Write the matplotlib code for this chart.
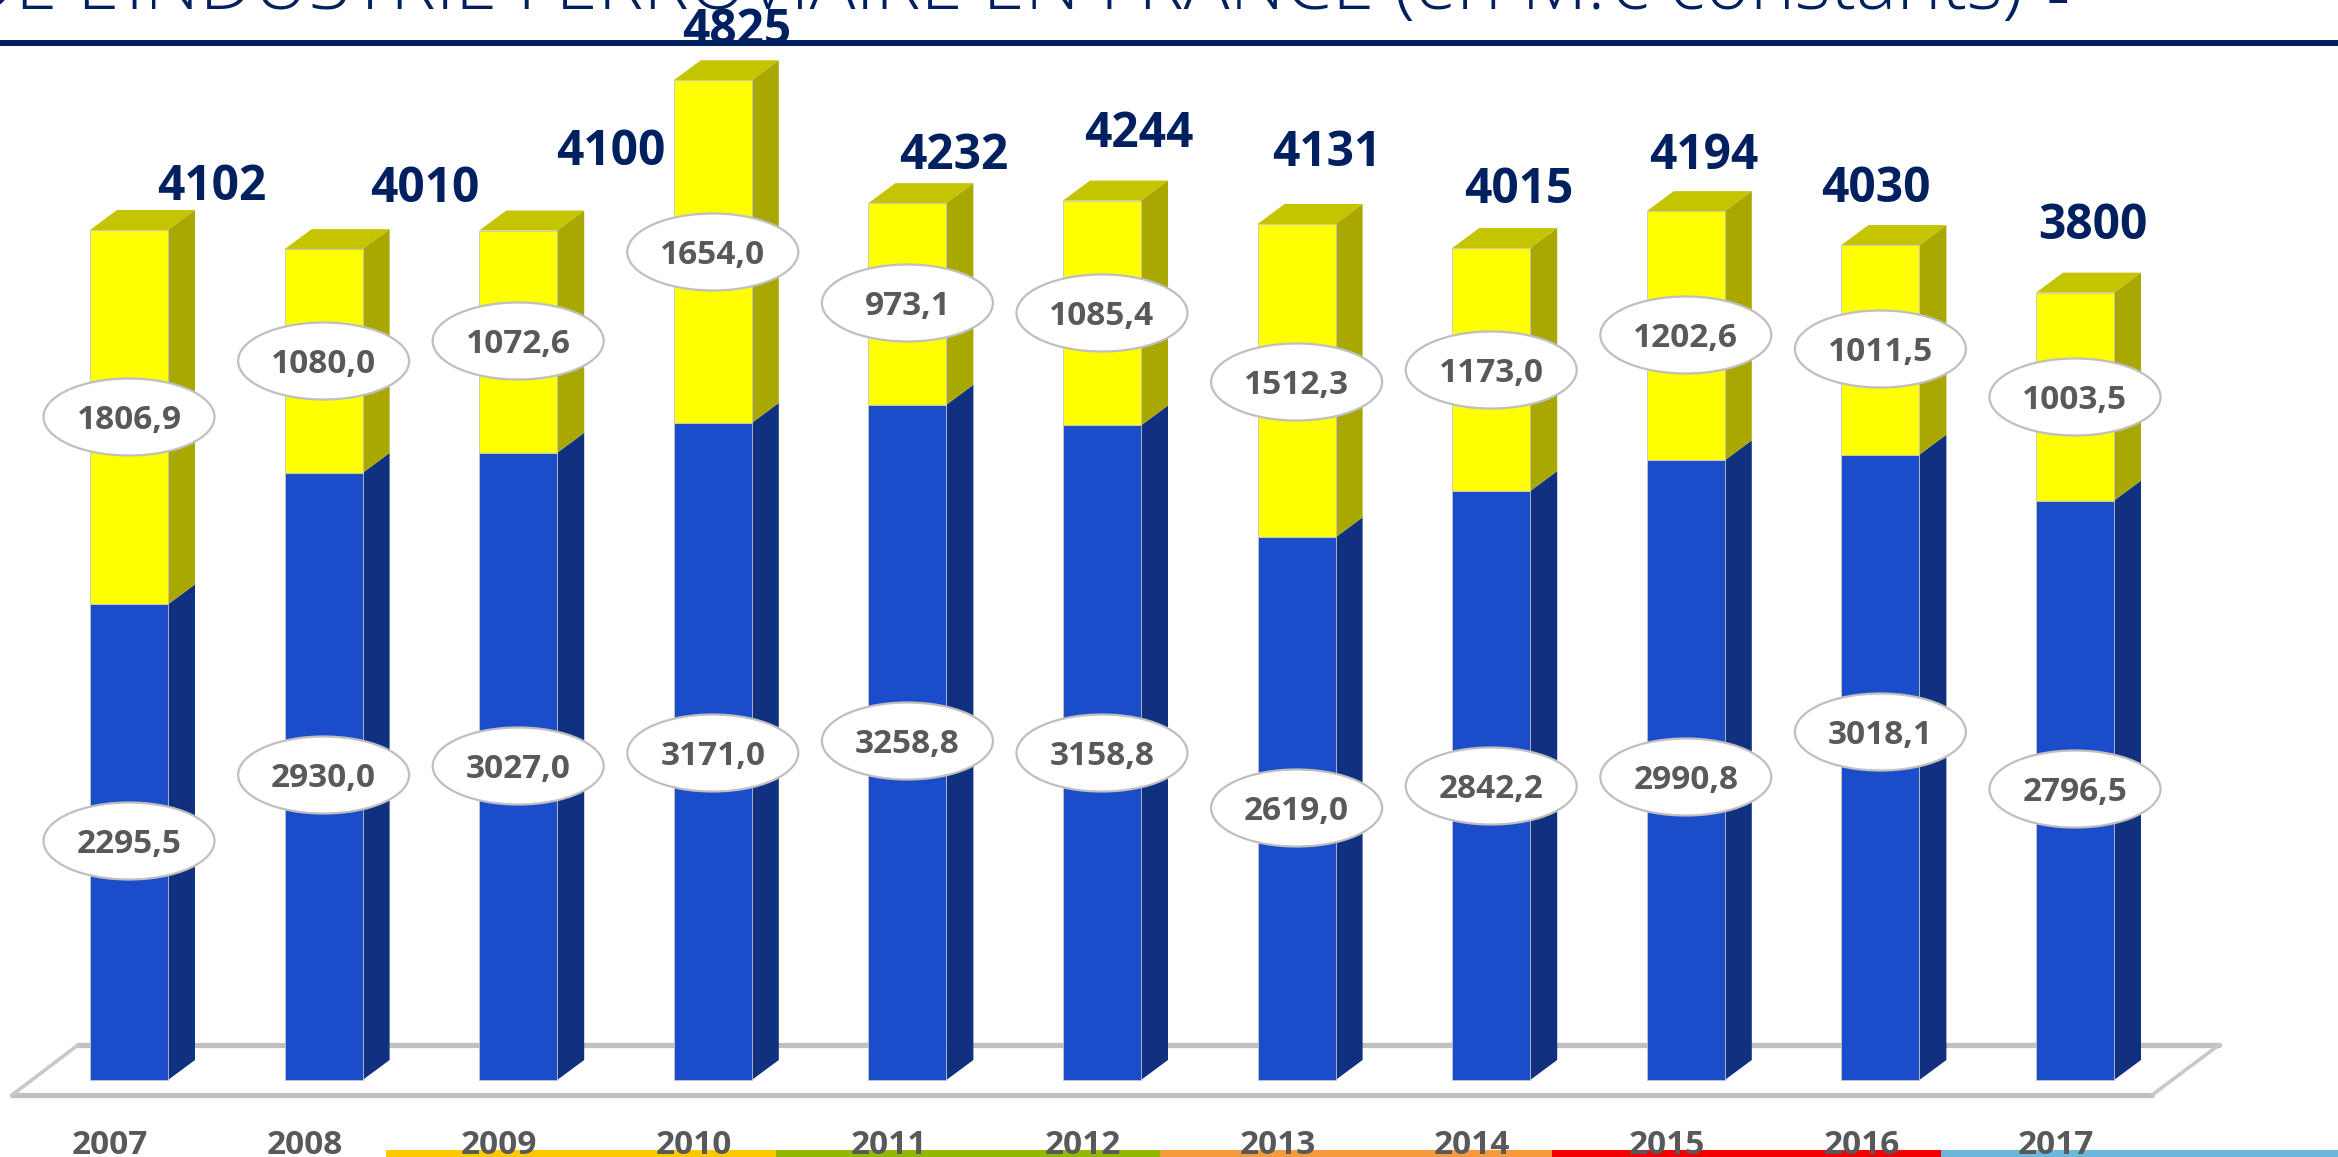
import matplotlib
matplotlib.use("Agg")
import matplotlib.pyplot as plt
from matplotlib.patches import Polygon, Ellipse, Rectangle

# ---- data ----
years = ["2007", "2008", "2009", "2010", "2011", "2012", "2013", "2014", "2015", "2016", "2017"]
lower = [2295.5, 2930.0, 3027.0, 3171.0, 3258.8, 3158.8, 2619.0, 2842.2, 2990.8, 3018.1, 2796.5]
upper = [1806.9, 1080.0, 1072.6, 1654.0, 973.1, 1085.4, 1512.3, 1173.0, 1202.6, 1011.5, 1003.5]
totals = ["4102", "4010", "4100", "4825", "4232", "4244", "4131", "4015", "4194", "4030", "3800"]
title = "DE L'INDUSTRIE FERROVIAIRE EN FRANCE (en M.€ constants)"

# ---- label positions in reference pixels (x, y of centre) ----
lower_lab_y = [841, 775, 766, 753, 741, 753, 808, 786, 777, 732, 789]
upper_lab_y = [417, 361, 341, 252, 303, 313, 382, 370, 335, 349, 397]
total_xy = [(212, 183), (425, 185), (611, 148), (737, 27), (954, 152), (1139, 130),
            (1327, 149), (1519, 186), (1704, 152), (1876, 185), (2093, 222)]

W, H = 2338, 1157
X0, DX, Y0, PXV = 129.0, 194.6, 1080.0, 0.2072
BW, DEPTH_X, DEPTH_Y = 78.0, 27.0, 20.0

plt.rcParams["font.family"] = ["Open Sans", "DejaVu Sans"]
fig = plt.figure(figsize=(W / 100, H / 100), dpi=100)
ax = fig.add_axes([0, 0, 1, 1])
ax.set_xlim((0 - X0) / DX, (W - X0) / DX)
ax.set_ylim((Y0 - H) / PXV, Y0 / PXV)
ax.axis("off")

def px(x):
    return (x - X0) / DX
def py(y):
    return (Y0 - y) / PXV

bw = BW / DX
dx = DEPTH_X / DX
dy = DEPTH_Y / PXV

# floor
ax.plot([px(78), px(2219)], [py(1045), py(1045)], color="#c0c0c0", lw=3.8, zorder=1, solid_capstyle="round")
ax.plot([px(12), px(2152)], [py(1095), py(1095)], color="#c0c0c0", lw=3.8, zorder=1, solid_capstyle="round")
ax.plot([px(12), px(78)], [py(1095), py(1045)], color="#c8c8c8", lw=2.6, zorder=1)
ax.plot([px(2152), px(2219)], [py(1095), py(1045)], color="#c8c8c8", lw=2.6, zorder=1)

def box(i, b, h, front, side, top=None):
    l = i - bw / 2
    r = i + bw / 2
    ax.add_patch(Polygon([(r, b), (r + dx, b + dy), (r + dx, b + h + dy), (r, b + h)],
                         facecolor=side, edgecolor="none", zorder=3))
    if top:
        ax.add_patch(Polygon([(l, b + h), (l + dx, b + h + dy), (r + dx, b + h + dy), (r, b + h)],
                             facecolor=top, edgecolor="none", zorder=3))
    ax.bar(i, h, width=bw, bottom=b, color=front, edgecolor="#c4c4c4", linewidth=0.6, zorder=3)

for i in range(len(years)):
    box(i, 0, lower[i], "#1b4dca", "#103080")
    box(i, lower[i], upper[i], "#ffff00", "#a8a800", "#c4c400")

# value ellipses
ew, eh = 171 / DX, 77 / PXV
for i in range(len(years)):
    for val, yy in ((lower[i], lower_lab_y[i]), (upper[i], upper_lab_y[i])):
        ax.add_patch(Ellipse((i, py(yy)), ew, eh, facecolor="white", edgecolor="#bfbfbf", lw=1.6, zorder=5))
        ax.text(i, py(yy + 12), f"{val:.1f}".replace(".", ","), ha="center", va="baseline",
                fontsize=24, fontweight="bold", color="#595959", zorder=6)

# bottom colour strips
strips = [(386, 776, "#ffc800"), (776, 1160, "#92b800"), (1160, 1552, "#f79a3e"),
          (1552, 1941, "#f40000"), (1941, 2338, "#6cb8dc")]
for a, b, c in strips:
    ax.add_patch(Rectangle((px(a), py(1157)), px(b) - px(a), py(1150) - py(1157), facecolor=c, edgecolor="none", zorder=2))

# year labels
for i, y in enumerate(years):
    ax.text(i - 19 / DX, py(1154), y, ha="center", va="baseline", fontsize=24, fontweight="bold",
            color="#595959", zorder=6)

# totals
for t, (x, y) in zip(totals, total_xy):
    ax.text(px(x), py(y + 17), t, ha="center", va="baseline", fontsize=34.5, fontweight="bold",
            color="#002060", zorder=7)

# title and rule
ax.add_patch(Rectangle((px(0), py(46)), px(W) - px(0), py(40) - py(46), facecolor="#002060", edgecolor="none", zorder=6))
ax.text(px(2023), py(9), title, ha="right", va="baseline", fontsize=55, fontweight="light", color="#002060", zorder=2)
ax.text(px(2058), py(22), "-", ha="center", va="baseline", fontsize=55, fontweight="light", color="#002060", zorder=2)

fig.savefig("out.png", dpi=100)
